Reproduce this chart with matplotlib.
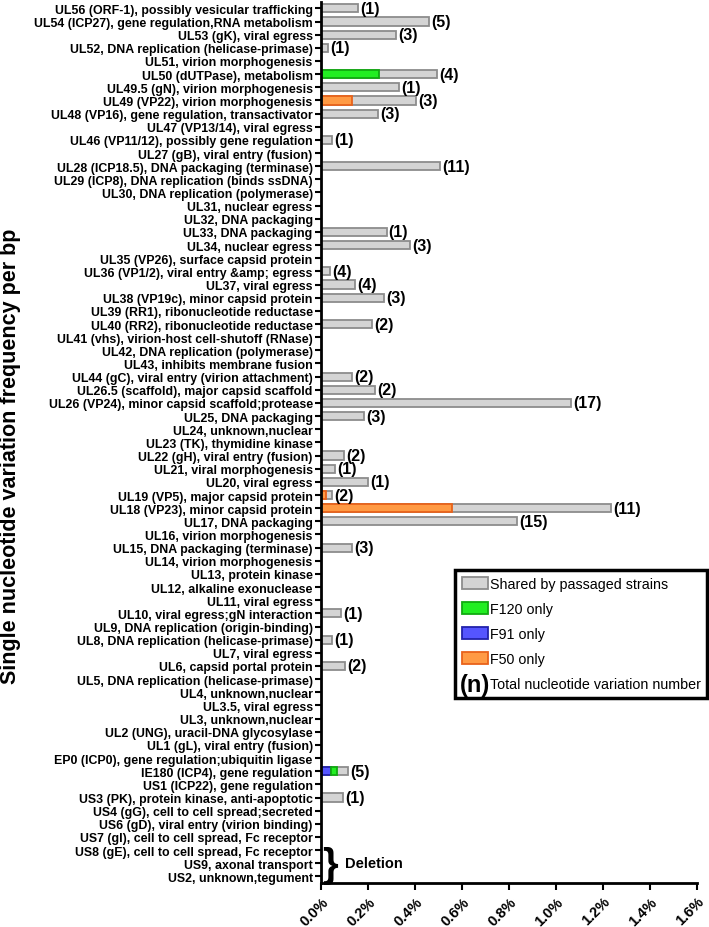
import matplotlib
matplotlib.use('Agg')
import matplotlib.pyplot as plt
import matplotlib.patches as mpatches
import matplotlib.text as mtext
from matplotlib.legend_handler import HandlerBase
from matplotlib.ticker import FuncFormatter

plt.rcParams['font.family'] = ['Liberation Sans', 'DejaVu Sans']

# genes, top to bottom
genes = [
    'UL56 (ORF-1), possibly vesicular trafficking',
    'UL54 (ICP27), gene regulation,RNA metabolism',
    'UL53 (gK), viral egress',
    'UL52, DNA replication (helicase-primase)',
    'UL51, virion morphogenesis',
    'UL50 (dUTPase), metabolism',
    'UL49.5 (gN), virion morphogenesis',
    'UL49 (VP22), virion morphogenesis',
    'UL48 (VP16), gene regulation, transactivator',
    'UL47 (VP13/14), viral egress',
    'UL46 (VP11/12), possibly gene regulation',
    'UL27 (gB), viral entry (fusion)',
    'UL28 (ICP18.5), DNA packaging (terminase)',
    'UL29 (ICP8), DNA replication (binds ssDNA)',
    'UL30, DNA replication (polymerase)',
    'UL31, nuclear egress',
    'UL32, DNA packaging',
    'UL33, DNA packaging',
    'UL34, nuclear egress',
    'UL35 (VP26), surface capsid protein',
    'UL36 (VP1/2), viral entry &amp; egress',
    'UL37, viral egress',
    'UL38 (VP19c), minor capsid protein',
    'UL39 (RR1), ribonucleotide reductase',
    'UL40 (RR2), ribonucleotide reductase',
    'UL41 (vhs), virion-host cell-shutoff (RNase)',
    'UL42, DNA replication (polymerase)',
    'UL43, inhibits membrane fusion',
    'UL44 (gC), viral entry (virion attachment)',
    'UL26.5 (scaffold), major capsid scaffold',
    'UL26 (VP24), minor capsid scaffold;protease',
    'UL25, DNA packaging',
    'UL24, unknown,nuclear',
    'UL23 (TK), thymidine kinase',
    'UL22 (gH), viral entry (fusion)',
    'UL21, viral morphogenesis',
    'UL20, viral egress',
    'UL19 (VP5), major capsid protein',
    'UL18 (VP23), minor capsid protein',
    'UL17, DNA packaging',
    'UL16, virion morphogenesis',
    'UL15, DNA packaging (terminase)',
    'UL14, virion morphogenesis',
    'UL13, protein kinase',
    'UL12, alkaline exonuclease',
    'UL11, viral egress',
    'UL10, viral egress;gN interaction',
    'UL9, DNA replication (origin-binding)',
    'UL8, DNA replication (helicase-primase)',
    'UL7, viral egress',
    'UL6, capsid portal protein',
    'UL5, DNA replication (helicase-primase)',
    'UL4, unknown,nuclear',
    'UL3.5, viral egress',
    'UL3, unknown,nuclear',
    'UL2 (UNG), uracil-DNA glycosylase',
    'UL1 (gL), viral entry (fusion)',
    'EP0 (ICP0), gene regulation;ubiquitin ligase',
    'IE180 (ICP4), gene regulation',
    'US1 (ICP22), gene regulation',
    'US3 (PK), protein kinase, anti-apoptotic',
    'US4 (gG), cell to cell spread;secreted',
    'US6 (gD), viral entry (virion binding)',
    'US7 (gI), cell to cell spread, Fc receptor',
    'US8 (gE), cell to cell spread, Fc receptor',
    'US9, axonal transport',
    'US2, unknown,tegument',
]

# total frequency (%) per gene
total = [0.157, 0.46, 0.32, 0.03, 0, 0.494, 0.332, 0.404, 0.242, 0, 0.047, 0,
         0.507, 0, 0, 0, 0, 0.28, 0.379, 0, 0.038, 0.145, 0.27, 0, 0.217, 0,
         0, 0, 0.132, 0.23, 1.064, 0.183, 0, 0, 0.098, 0.06, 0.2, 0.047,
         1.234, 0.834, 0, 0.132, 0, 0, 0, 0, 0.085, 0, 0.047, 0, 0.102, 0,
         0, 0, 0, 0, 0, 0, 0.115, 0, 0.094, 0, 0, 0, 0, 0, 0]

# strain-specific parts (%)
f91 = {'IE180 (ICP4), gene regulation': 0.043}
f120 = {'UL50 (dUTPase), metabolism': 0.247,
        'IE180 (ICP4), gene regulation': 0.025}
f50 = {'UL49 (VP22), virion morphogenesis': 0.132,
       'UL19 (VP5), major capsid protein': 0.02,
       'UL18 (VP23), minor capsid protein': 0.557}

# total number of variations
counts = {
    'UL56': 1, 'UL54': 5, 'UL53': 3, 'UL52': 1, 'UL50': 4, 'UL49.5': 1,
    'UL49': 3, 'UL48': 3, 'UL46': 1, 'UL28': 11, 'UL33': 1, 'UL34': 3,
    'UL36': 4, 'UL37': 4, 'UL38': 3, 'UL40': 2, 'UL44': 2, 'UL26.5': 2,
    'UL26': 17, 'UL25': 3, 'UL22': 2, 'UL21': 1, 'UL20': 1, 'UL19': 2,
    'UL18': 11, 'UL17': 15, 'UL15': 3, 'UL10': 1, 'UL8': 1, 'UL6': 2,
    'IE180': 5, 'US3': 1,
}
deleted = ['US8 (gE), cell to cell spread, Fc receptor',
           'US9, axonal transport',
           'US2, unknown,tegument']

grey, grey_e = '#d4d4d4', '#8c8c8c'
green, green_e = '#22ee22', '#11aa11'
blue, blue_e = '#5555ff', '#2222aa'
orange, orange_e = '#ff9a44', '#e8621a'

fig = plt.figure(figsize=(7.09, 9.28), dpi=100)
ax = fig.add_axes([0.4528, 0.0474, 0.983 - 0.4528, 0.997 - 0.0474])

y = list(range(len(genes)))
h = 0.62
ax.barh(y, total, height=h, color=grey, edgecolor=grey_e, linewidth=1.3)

for i, g in enumerate(genes):
    left = 0
    for part, c, e in ((f91, blue, blue_e), (f120, green, green_e), (f50, orange, orange_e)):
        if g in part:
            ax.barh(i, part[g], left=left, height=h, color=c, edgecolor=e, linewidth=1.3)
            left += part[g]
    key = g.split(',')[0].split(' ')[0]
    if key in counts:
        ax.text(total[i] + 0.008, i, '(%d)' % counts[key], va='center', ha='left',
                fontsize=11.5, fontweight='bold')

ax.set_yticks(y)
ax.set_yticklabels(genes, fontsize=8.9, fontweight='bold')
ax.set_ylim(len(genes) - 0.5, -0.5)

ax.set_xlim(0, 1.6)
ax.set_xticks([0, 0.2, 0.4, 0.6, 0.8, 1.0, 1.2, 1.4, 1.6])
ax.xaxis.set_major_formatter(FuncFormatter(lambda v, p: '%.1f%%' % v))
for lab in ax.get_xticklabels():
    lab.set_rotation(45)
    lab.set_ha('right')
    lab.set_rotation_mode('anchor')
    lab.set_fontweight('bold')
    lab.set_fontsize(10.5)

for s in ('top', 'right'):
    ax.spines[s].set_visible(False)
for s in ('left', 'bottom'):
    ax.spines[s].set_linewidth(2)
ax.tick_params(axis='y', length=4, width=1.5, pad=2)
ax.tick_params(axis='x', length=5, width=1.5, pad=3)

# deletion brace
yd = [genes.index(d) for d in deleted]
ax.text(0.004, sum(yd) / 3 + 0.1, '}', fontsize=29, va='center', ha='left',
        fontweight='bold')
ax.text(0.1, sum(yd) / 3, 'Deletion', fontsize=10.5, va='center', ha='left',
        fontweight='bold')

fig.text(0.015, 0.508, 'Single nucleotide variation frequency per bp', rotation=90,
         va='center', ha='center', fontsize=15.5, fontweight='bold')


class TextHandler(HandlerBase):
    def create_artists(self, legend, orig_handle, xdescent, ydescent, width,
                       height, fontsize, trans):
        t = mtext.Text(width / 2 - xdescent, height / 2 - ydescent - 1, '(n)',
                       ha='center', va='center', fontsize=17, fontweight='bold',
                       transform=trans)
        return [t]


handles = [mpatches.Patch(facecolor=grey, edgecolor=grey_e, linewidth=1.3),
           mpatches.Patch(facecolor=green, edgecolor=green_e, linewidth=1.3),
           mpatches.Patch(facecolor=blue, edgecolor=blue_e, linewidth=1.3),
           mpatches.Patch(facecolor=orange, edgecolor=orange_e, linewidth=1.3),
           'n']
labels = ['Shared by passaged strains', 'F120 only', 'F91 only', 'F50 only',
          'Total nucleotide variation number']
leg = ax.legend(handles, labels, handler_map={str: TextHandler()},
                loc='upper right', bbox_to_anchor=(1.027, 0.355),
                fontsize=10.3, fancybox=False, edgecolor='black', framealpha=1,
                handlelength=1.85, handleheight=0.9, handletextpad=0.1,
                labelspacing=0.78, borderpad=0.45, borderaxespad=0)
leg.get_frame().set_linewidth(2.5)

fig.savefig('out.png', dpi=100)
